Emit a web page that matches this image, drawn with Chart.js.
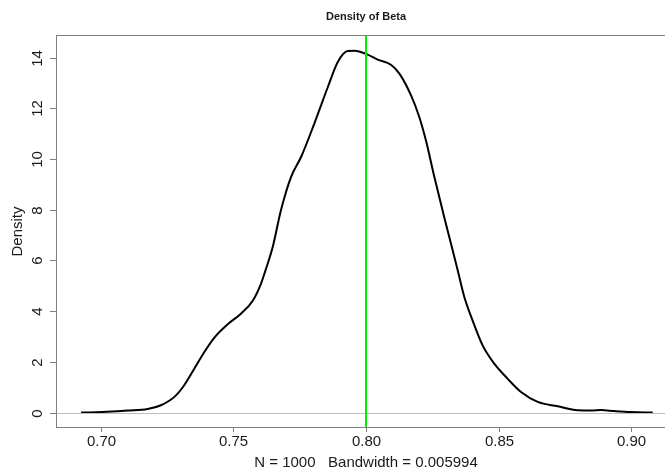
<!DOCTYPE html>
<html>
<head>
<meta charset="utf-8">
<script src="https://cdn.jsdelivr.net/npm/chart.js@4.4.1/dist/chart.umd.min.js"></script>
<style>
    html, body { margin: 0; padding: 0; background: #fff; overflow: hidden; }
    #wrap { width: 665px; height: 476px; overflow: hidden; }
</style>
</head>
<body>
<div id="wrap"><canvas id="densityChart" width="690" height="476"></canvas></div>
<script>
// density estimate
const betaValues = [
    0.6925, 0.7006, 0.7100, 0.7176, 0.7226, 0.7277, 0.7314, 0.7352, 0.7390, 0.7428,
    0.7478, 0.7528, 0.7572, 0.7604, 0.7622, 0.7648, 0.7679, 0.7717, 0.7755, 0.7805,
    0.7856, 0.7893, 0.7931, 0.7956, 0.8004, 0.8044, 0.8094, 0.8126, 0.8170, 0.8201,
    0.8226, 0.8258, 0.8295, 0.8327, 0.8346, 0.8371, 0.8402, 0.8440, 0.8484, 0.8534,
    0.8585, 0.8648, 0.8723, 0.8799, 0.8850, 0.8887, 0.8937, 0.9000, 0.9082
];
const densityValues = [
    0.00, 0.02, 0.08, 0.14, 0.29, 0.62, 1.08, 1.73, 2.39, 2.96,
    3.48, 3.90, 4.40, 5.09, 5.65, 6.53, 7.98, 9.29, 10.08, 11.40,
    12.84, 13.82, 14.26, 14.27, 14.13, 13.92, 13.72, 13.37, 12.51, 11.66,
    10.74, 9.29, 7.71, 6.40, 5.61, 4.56, 3.64, 2.65, 1.93, 1.34,
    0.81, 0.42, 0.25, 0.09, 0.08, 0.10, 0.06, 0.02, 0.00
];
const xTicks = [0.70, 0.75, 0.80, 0.85, 0.90];
const yTicks = [0, 2, 4, 6, 8, 10, 12, 14];
const xRange = [0.6834, 0.9166];
const yRange = [-0.568, 14.852];
const trueBeta = 0.80;

const chartTitle = 'Density of Beta';
const xTitle = 'N = 1000   Bandwidth = 0.005994';
const yTitle = 'Density';

const font = '"Liberation Sans", Arial, sans-serif';

// R-style frame: zero line, abline, box, ticks and labels
const rFrame = {
    id: 'rFrame',
    afterDatasetsDraw(chart) {
        const { ctx, chartArea: a, scales: { x, y } } = chart;
        ctx.save();

        // zero line
        const y0 = Math.round(y.getPixelForValue(0)) + 0.5;
        ctx.strokeStyle = '#bebebe';
        ctx.lineWidth = 1;
        ctx.beginPath();
        ctx.moveTo(a.left, y0);
        ctx.lineTo(a.right, y0);
        ctx.stroke();

        // true value
        const xb = x.getPixelForValue(trueBeta);
        ctx.strokeStyle = '#00ee00';
        ctx.lineWidth = 2;
        ctx.beginPath();
        ctx.moveTo(xb, a.top);
        ctx.lineTo(xb, a.bottom);
        ctx.stroke();

        // box
        ctx.strokeStyle = '#808080';
        ctx.lineWidth = 1;
        ctx.strokeRect(a.left - 0.5, a.top - 0.5, a.right - a.left + 1, a.bottom - a.top + 1);

        // x ticks
        ctx.fillStyle = '#1a1a1a';
        ctx.font = '15px ' + font;
        ctx.textAlign = 'center';
        ctx.textBaseline = 'middle';
        xTicks.forEach(v => {
            const px = Math.round(x.getPixelForValue(v)) + 0.5;
            ctx.beginPath();
            ctx.moveTo(px, a.bottom);
            ctx.lineTo(px, a.bottom + 5);
            ctx.stroke();
            ctx.fillText(v.toFixed(2), px, a.bottom + 15);
        });

        // y ticks, labels rotated like R
        yTicks.forEach(v => {
            const py = Math.round(y.getPixelForValue(v)) + 0.5;
            ctx.beginPath();
            ctx.moveTo(a.left - 7, py);
            ctx.lineTo(a.left, py);
            ctx.stroke();
            ctx.save();
            ctx.translate(a.left - 19.5, py);
            ctx.rotate(-Math.PI / 2);
            ctx.fillText(String(v), 0, 0);
            ctx.restore();
        });

        // titles
        ctx.fillText(xTitle, (a.left + a.right) / 2, a.bottom + 36);
        ctx.save();
        ctx.translate(a.left - 39, (a.top + a.bottom) / 2);
        ctx.rotate(-Math.PI / 2);
        ctx.fillText(yTitle, 0, 0);
        ctx.restore();

        ctx.font = 'bold 11px ' + font;
        ctx.fillText(chartTitle, (a.left + a.right) / 2, a.top - 19);

        ctx.restore();
    }
};

new Chart(document.getElementById('densityChart').getContext('2d'), {
    type: 'line',
    data: {
        datasets: [{
            data: betaValues.map((b, i) => ({ x: b, y: densityValues[i] })),
            borderColor: '#000',
            borderWidth: 2,
            pointRadius: 0,
            cubicInterpolationMode: 'monotone',
            fill: false
        }]
    },
    options: {
        responsive: false,
        animation: false,
        events: [],
        layout: { padding: { left: 57, top: 36, right: 15, bottom: 49 } },
        plugins: { legend: { display: false }, tooltip: { enabled: false } },
        scales: {
            x: { type: 'linear', display: false, min: xRange[0], max: xRange[1] },
            y: { type: 'linear', display: false, min: yRange[0], max: yRange[1] }
        }
    },
    plugins: [rFrame]
});
</script>
</body>
</html>
